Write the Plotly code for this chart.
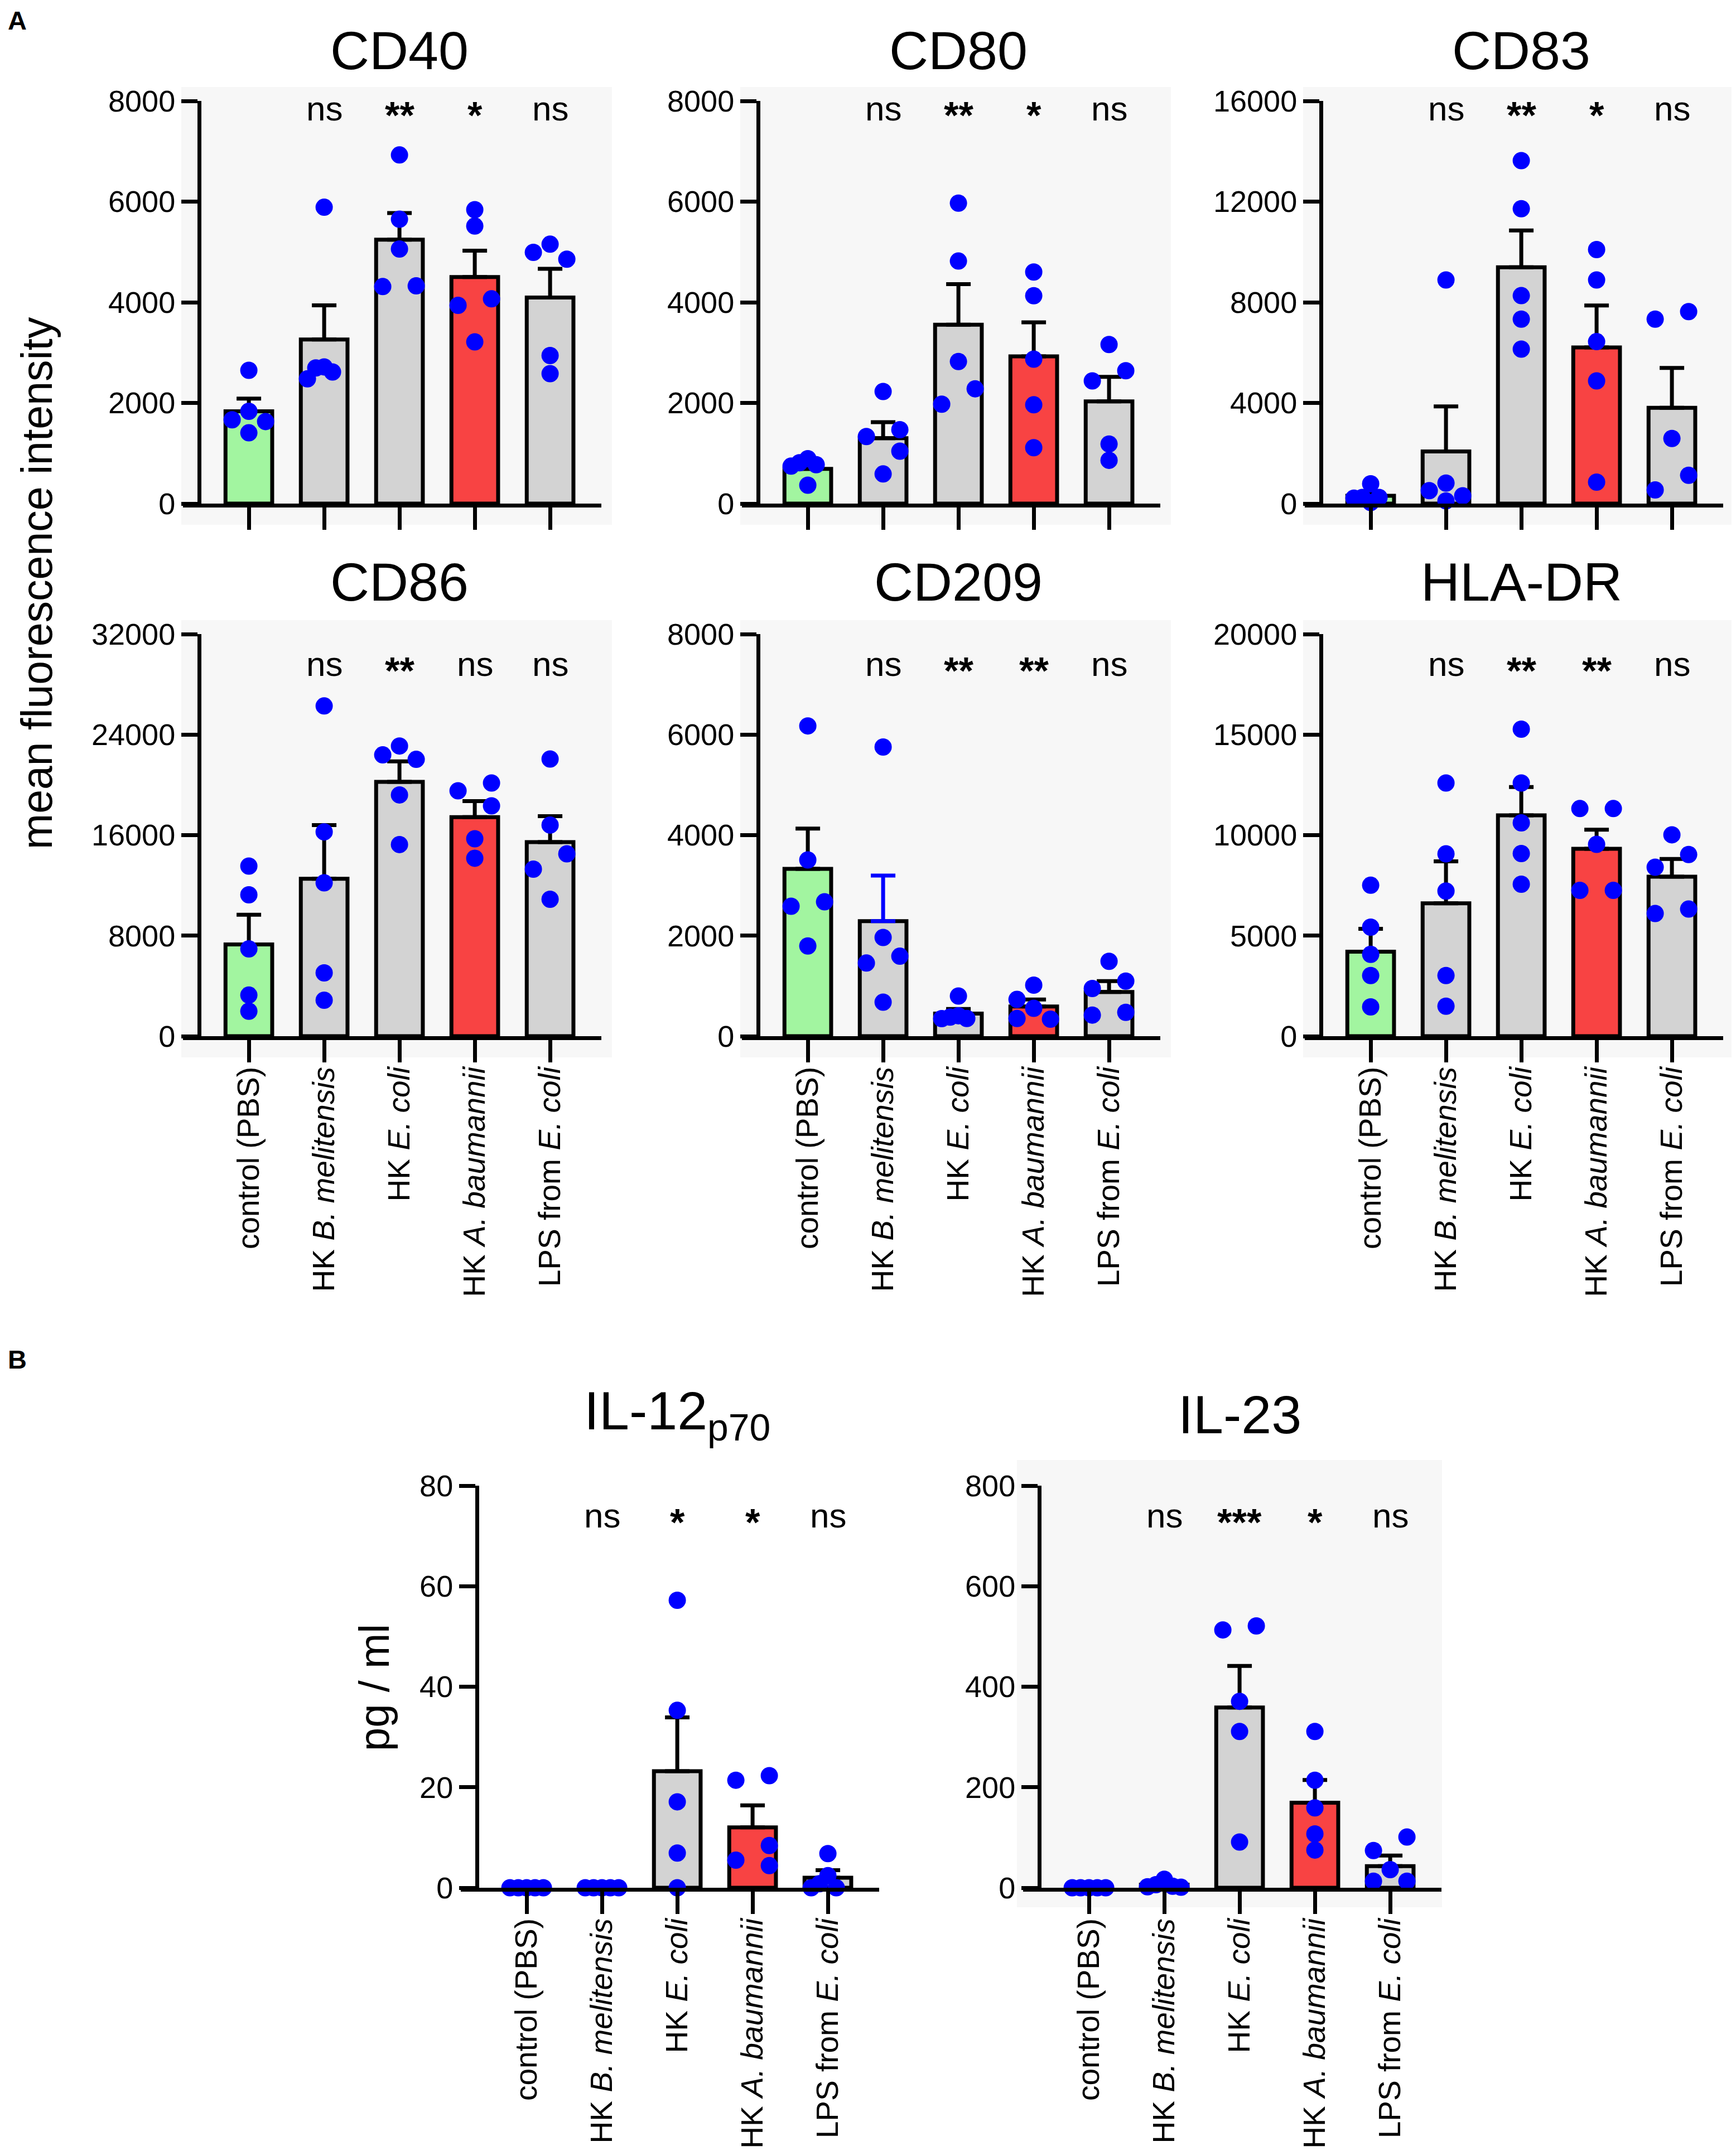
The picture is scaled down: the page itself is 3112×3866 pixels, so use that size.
"""Dendritic cell activation markers and cytokines, bar + dot panels."""

import plotly.graph_objects as go

W, H = 3112, 3866
OFF = 8  # the page body margin shifts the plot div by this many pixels
FONT = "Liberation Sans, Arial, sans-serif"

GROUPS = [
    "control (PBS)",
    "HK <i>B. melitensis</i>",
    "HK <i>E. coli</i>",
    "HK <i>A. baumannii</i>",
    "LPS from <i>E. coli</i>",
]
FILLS = ["#a2f5a0", "#d3d3d3", "#d3d3d3", "#f84343", "#d3d3d3"]

# --- values (mean, SEM, single donors, significance) ---
CD40_TICKS = [0, 2000, 4000, 6000, 8000]
CD40_MEAN = [1834, 3260, 5243, 4502, 4095]
CD40_SEM = [251, 679, 529, 523, 570]
CD40_POINTS = [
    [2649, 1834, 1664, 1630, 1406],
    [5888, 2716, 2696, 2615, 2479],
    [6927, 5650, 5059, 4326, 4312],
    [5840, 5514, 4068, 3939, 3212],
    [5154, 4992, 4856, 2941, 2581],
]
CD40_SIG = ["", "ns", "**", "*", "ns"]

CD80_TICKS = [0, 2000, 4000, 6000, 8000]
CD80_MEAN = [690, 1299, 3553, 2924, 2030]
CD80_SEM = [90, 319, 806, 677, 488]
CD80_POINTS = [
    [893, 812, 772, 744, 365],
    [2227, 1469, 1333, 1042, 589],
    [5970, 4819, 2822, 2281, 1976],
    [4602, 4129, 2870, 1963, 1110],
    [3161, 2640, 2437, 1184, 860],
]
CD80_SIG = ["", "ns", "**", "*", "ns"]

CD83_TICKS = [0, 4000, 8000, 12000, 16000]
CD83_MEAN = [310, 2073, 9388, 6205, 3807]
CD83_SEM = [140, 1788, 1464, 1666, 1585]
CD83_POINTS = [
    [786, 244, 244, 217, 41],
    [8887, 813, 515, 312, 108],
    [13629, 11719, 8264, 7329, 6137],
    [10093, 8887, 6435, 4877, 853],
    [7627, 7329, 2588, 1124, 542],
]
CD83_SIG = ["", "ns", "**", "*", "ns"]

CD86_TICKS = [0, 8000, 16000, 24000, 32000]
CD86_MEAN = [7299, 12528, 20235, 17430, 15442]
CD86_SEM = [2369, 4275, 1634, 1280, 2070]
CD86_POINTS = [
    [13535, 11248, 6945, 3268, 1988],
    [26281, 16259, 12201, 5038, 2860],
    [23094, 22386, 22032, 19200, 15251],
    [20153, 19527, 18329, 15714, 14162],
    [22059, 16803, 14515, 13290, 10894],
]
CD86_SIG = ["", "ns", "**", "ns", "ns"]

CD209_TICKS = [0, 2000, 4000, 6000, 8000]
CD209_MEAN = [3330, 2288, 450, 590, 880]
CD209_SEM = [799, 907, 90, 140, 215]
CD209_POINTS = [
    [6173, 3506, 2673, 2585, 1794],
    [5753, 1963, 1591, 1455, 677],
    [799, 406, 380, 352, 350],
    [1015, 731, 555, 352, 338],
    [1489, 1096, 948, 474, 420],
]
CD209_SIG = ["", "ns", "**", "**", "ns"]

HLADR_TICKS = [0, 5000, 10000, 15000, 20000]
HLADR_MEAN = [4203, 6610, 10983, 9322, 7932]
HLADR_SEM = [1136, 2085, 1407, 949, 882]
HLADR_POINTS = [
    [7508, 5424, 4068, 3017, 1458],
    [12593, 9068, 7220, 3017, 1492],
    [15271, 12593, 10610, 9085, 7559],
    [11322, 11322, 9542, 7254, 7254],
    [10017, 9034, 8407, 6322, 6102],
]
HLADR_SIG = ["", "ns", "**", "**", "ns"]

IL12_TICKS = [0, 20, 40, 60, 80]
IL12_MEAN = [0, 0, 23.2, 12.0, 2.0]
IL12_SEM = [0, 0, 10.7, 4.4, 1.5]
IL12_POINTS = [
    [0, 0, 0, 0, 0],
    [0, 0, 0, 0, 0],
    [57.2, 35.3, 17.1, 6.9, 0],
    [22.3, 21.4, 8.4, 5.5, 4.4],
    [6.8, 2.4, 0.8, 0, 0],
]
IL12_SIG = ["", "ns", "*", "*", "ns"]

IL23_TICKS = [0, 200, 400, 600, 800]
IL23_MEAN = [0, 6, 358.6, 169.3, 43]
IL23_SEM = [0, 3, 82.8, 45, 21]
IL23_POINTS = [
    [0, 0, 0, 0, 0],
    [17, 6, 3, 2, 1],
    [521, 513, 371, 311, 91],
    [311, 214, 159, 107, 75],
    [101, 74, 36, 13, 13],
]
IL23_SIG = ["", "ns", "***", "*", "ns"]

PANELS = [
    dict(title="CD40", mean=CD40_MEAN, sem=CD40_SEM, pts=CD40_POINTS, sig=CD40_SIG, ticks=CD40_TICKS),
    dict(title="CD80", mean=CD80_MEAN, sem=CD80_SEM, pts=CD80_POINTS, sig=CD80_SIG, ticks=CD80_TICKS),
    dict(title="CD83", mean=CD83_MEAN, sem=CD83_SEM, pts=CD83_POINTS, sig=CD83_SIG, ticks=CD83_TICKS),
    dict(title="CD86", mean=CD86_MEAN, sem=CD86_SEM, pts=CD86_POINTS, sig=CD86_SIG, ticks=CD86_TICKS),
    dict(title="CD209", mean=CD209_MEAN, sem=CD209_SEM, pts=CD209_POINTS, sig=CD209_SIG, ticks=CD209_TICKS),
    dict(title="HLA-DR", mean=HLADR_MEAN, sem=HLADR_SEM, pts=HLADR_POINTS, sig=HLADR_SIG, ticks=HLADR_TICKS),
    dict(title="IL-12<sub>p70</sub>", mean=IL12_MEAN, sem=IL12_SEM, pts=IL12_POINTS, sig=IL12_SIG, ticks=IL12_TICKS),
    dict(title="IL-23", mean=IL23_MEAN, sem=IL23_SEM, pts=IL23_POINTS, sig=IL23_SIG, ticks=IL23_TICKS),
]

# page geometry in pixels: (y-axis x, top tick y, zero y, title y, sig offset, x labels, bg pad)
BG_A = (32, 740, 25, 38)
BG_B = (40, 722, 46, 35)
GEOM = [
    (357, 181, 903, 90, 18, False, BG_A),
    (1359, 181, 903, 90, 18, False, BG_A),
    (2368, 181, 903, 90, 18, False, BG_A),
    (357, 1137, 1858, 1043, 58, True, BG_A),
    (1359, 1137, 1858, 1043, 58, True, BG_A),
    (2368, 1137, 1858, 1043, 58, True, BG_A),
    (855, 2664, 3385, 2536, 58, True, None),
    (1863, 2664, 3385, 2536, 58, True, BG_B),
]
ERR_BLUE = {(4, 1)}  # the B. melitensis error bar in CD209 is drawn in blue

PX_PER_CAT = 135
X_LEFT, X_RIGHT = -0.66, 4.68
Y_TICKLEN = 29
DOT = 31
DOT_GAP = 28
STEP = 31
MAX_SPREAD = 30
BLUE = "#0000ff"


def px_x(p):
    return (p - OFF) / W


def px_y(p):
    return 1 - (p - OFF) / H


def spread(values, px_per_unit):
    """Prism-like horizontal scatter so overlapping dots sit side by side."""
    n = len(values)
    order = sorted(range(n), key=lambda i: -values[i])
    slot = {}
    for i in order:
        for s in (0, -1, 1, -2, 2, -3, 3):
            if all(slot[j] != s or abs(values[i] - values[j]) * px_per_unit >= DOT_GAP for j in slot):
                slot[i] = s
                break
    seen = set()
    for i in order:
        if i in seen:
            continue
        comp = [i]
        seen.add(i)
        k = 0
        while k < len(comp):
            a = comp[k]
            k += 1
            for b in range(n):
                if b not in seen and abs(values[a] - values[b]) * px_per_unit < DOT_GAP:
                    seen.add(b)
                    comp.append(b)
        if {slot[j] for j in comp} == {0, -1}:
            for j in comp:
                if slot[j] == 0:
                    slot[j] = 1
    widest = max(abs(s) for s in slot.values()) * STEP
    scale = min(1.0, MAX_SPREAD / widest) if widest else 1.0
    return [slot[i] * STEP * scale / PX_PER_CAT for i in range(n)]


fig = go.Figure()
layout = {}
annotations = []
shapes = []

for k, (panel, geom) in enumerate(zip(PANELS, GEOM)):
    ax_x, top, zero, title_y, sig_off, labels, bg = geom
    n = k + 1
    xa, ya = ("x", "y") if n == 1 else (f"x{n}", f"y{n}")
    xkey, ykey = ("xaxis", "yaxis") if n == 1 else (f"xaxis{n}", f"yaxis{n}")
    ymax = panel["ticks"][-1]
    plot_h = zero - top
    cats = list(range(len(GROUPS)))

    fig.add_trace(go.Bar(
        x=cats, y=panel["mean"], width=0.62, xaxis=xa, yaxis=ya,
        marker=dict(color=FILLS, line=dict(color="black", width=7)),
        hoverinfo="skip", showlegend=False,
    ))

    for color in ("black", BLUE):
        idx = [i for i in cats if ((k, i) in ERR_BLUE) == (color == BLUE)]
        if not idx:
            continue
        fig.add_trace(go.Scatter(
            x=idx, y=[panel["mean"][i] for i in idx], mode="markers",
            marker=dict(size=1, color="rgba(0,0,0,0)"), xaxis=xa, yaxis=ya,
            error_y=dict(type="data", symmetric=False,
                         array=[panel["sem"][i] for i in idx],
                         arrayminus=[0] * len(idx),
                         color=color, thickness=7, width=22),
            hoverinfo="skip", showlegend=False, cliponaxis=False,
        ))

    xs, ys = [], []
    for i, vals in enumerate(panel["pts"]):
        offs = spread(vals, plot_h / ymax)
        xs += [i + o for o in offs]
        ys += vals
    fig.add_trace(go.Scatter(
        x=xs, y=ys, mode="markers", xaxis=xa, yaxis=ya,
        marker=dict(size=DOT, color=BLUE, line=dict(width=0)),
        hoverinfo="skip", showlegend=False, cliponaxis=False,
    ))

    layout[xkey] = dict(
        domain=[px_x(ax_x - Y_TICKLEN), px_x(ax_x + (X_RIGHT - X_LEFT) * PX_PER_CAT)],
        range=[X_LEFT - Y_TICKLEN / PX_PER_CAT, X_RIGHT], anchor=ya,
        showline=True, linecolor="black", linewidth=7,
        ticks="outside", ticklen=40, tickwidth=7, tickcolor="black",
        tickvals=cats, ticktext=GROUPS, showticklabels=labels, tickangle=-90,
        ticklabelstandoff=-14,
        tickfont=dict(family=FONT, size=55, color="black"),
        showgrid=False, zeroline=False, fixedrange=True, automargin=False,
    )
    layout[ykey] = dict(
        domain=[px_y(zero), px_y(top)], range=[0, ymax],
        anchor="free", position=px_x(ax_x),
        showline=True, linecolor="black", linewidth=7,
        ticks="outside", ticklen=Y_TICKLEN, tickwidth=7, tickcolor="black",
        tickvals=panel["ticks"], ticktext=[str(t) for t in panel["ticks"]],
        tickfont=dict(family=FONT, size=54, color="black"),
        showgrid=False, zeroline=False, fixedrange=True, automargin=False,
    )

    if bg:
        left, right, up, down = bg
        shapes.append(dict(
            type="rect", xref="paper", yref="paper", layer="below",
            x0=px_x(ax_x - left), x1=px_x(ax_x + right),
            y0=px_y(zero + down), y1=px_y(top - up),
            fillcolor="#f7f7f7", line=dict(width=0),
        ))

    annotations.append(dict(
        text=panel["title"], xref=xa, x=2, yref="paper", y=px_y(title_y),
        xanchor="center", yanchor="middle", showarrow=False,
        font=dict(family=FONT, size=97, color="black"),
    ))
    for i, s in enumerate(panel["sig"]):
        if not s:
            continue
        star = "*" in s
        annotations.append(dict(
            text=f"<b>{s}</b>" if star else s,
            xref=xa, x=i, yref=f"{ya} domain", y=1 - (sig_off - 5) / plot_h,
            xanchor="center", yanchor="middle", showarrow=False,
            yshift=-12 if star else 0,
            font=dict(family=FONT, size=68 if star else 62, color="black"),
        ))

annotations += [
    dict(text="mean fluorescence intensity", xref="paper", yref="paper",
         x=px_x(66), y=px_y(1046), textangle=-90, showarrow=False,
         xanchor="center", yanchor="middle",
         font=dict(family=FONT, size=77, color="black")),
    dict(text="pg / ml", xref="paper", yref="paper",
         x=px_x(670), y=px_y(3026), textangle=-90, showarrow=False,
         xanchor="center", yanchor="middle",
         font=dict(family=FONT, size=76, color="black")),
    dict(text="<b>A</b>", xref="paper", yref="paper", x=px_x(31), y=px_y(37),
         showarrow=False, xanchor="center", yanchor="middle",
         font=dict(family=FONT, size=47, color="black")),
    dict(text="<b>B</b>", xref="paper", yref="paper", x=px_x(31), y=px_y(2437),
         showarrow=False, xanchor="center", yanchor="middle",
         font=dict(family=FONT, size=47, color="black")),
]

fig.update_layout(
    template="none",
    width=W, height=H, autosize=False,
    margin=dict(l=0, r=0, t=0, b=0, pad=0, autoexpand=False),
    paper_bgcolor="white", plot_bgcolor="rgba(0,0,0,0)",
    barmode="overlay", showlegend=False,
    annotations=annotations, shapes=shapes,
    **layout,
)

fig.write_html("out.html")
